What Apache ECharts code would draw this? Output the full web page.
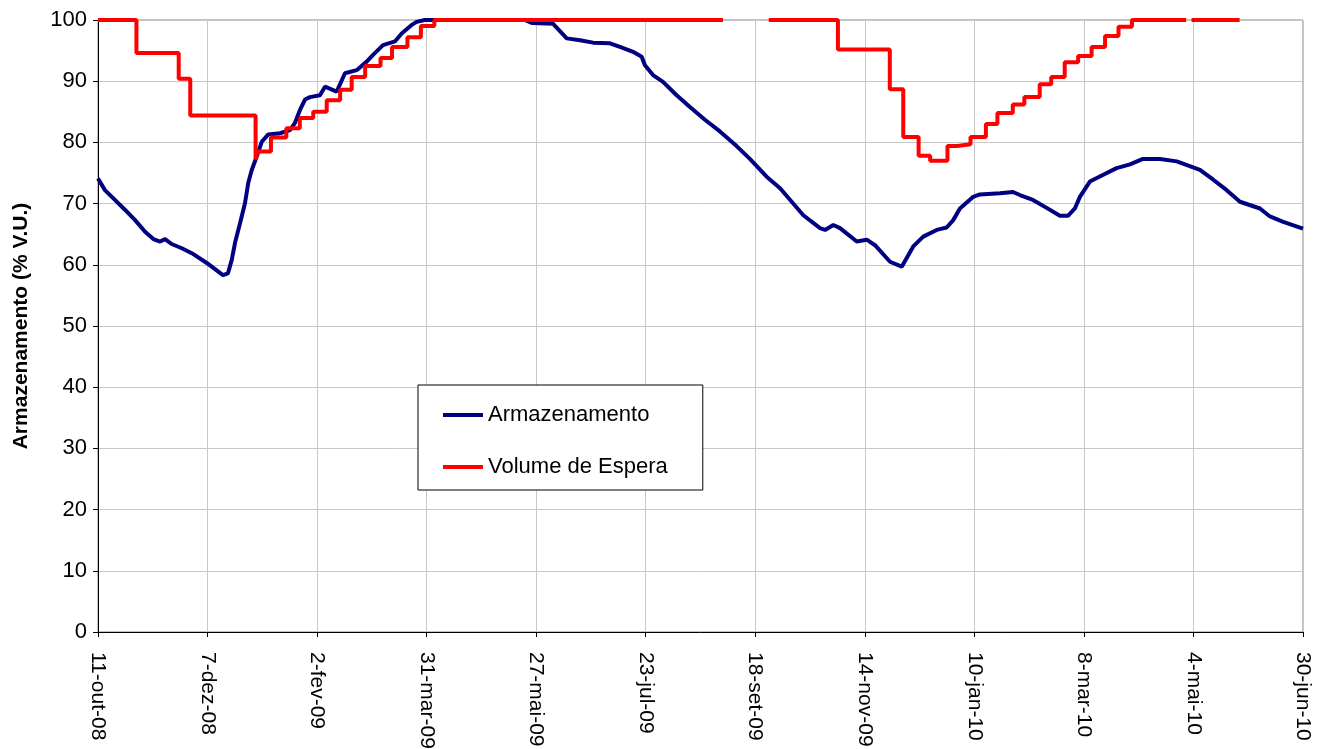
<!DOCTYPE html>
<html>
<head>
<meta charset="utf-8">
<script src="https://cdn.jsdelivr.net/npm/echarts@6/dist/echarts.min.js"></script>
<style>
  html, body { margin: 0; padding: 0; background: #fff; }
  #container { width: 1326px; height: 749px; }
</style>
</head>
<body>
<div id="container"></div>
<script>
// days counted from 11-out-08
var tickLabels = ['11-out-08', '7-dez-08', '2-fev-09', '31-mar-09', '27-mai-09', '23-jul-09',
                  '18-set-09', '14-nov-09', '10-jan-10', '8-mar-10', '4-mai-10', '30-jun-10'];

var blueDays = [0, 3.6, 8.8, 14, 19.3, 24.5, 28.8, 32.3, 34.9, 38.3, 43.6, 48.8, 56.6, 65, 67.6,
    69.6, 71.3, 73.9, 76.5, 78.2, 80, 82.6, 85.2, 88.6, 94.7, 99.9, 102.5, 105.1, 107.7, 110.3,
    115.5, 118.1, 124.2, 128.5, 134.6, 139.8, 143.1, 148.3, 154.5, 158, 163.2, 165.8, 170, 222,
    226, 236.7, 243.9, 250.8, 257.6, 266.4, 271.6, 278.4, 282.9, 284.6, 288.8, 294, 301.1, 308,
    315.8, 323.6, 332.3, 339.2, 347.9, 354.9, 367, 375.7, 378.3, 382.6, 386.1, 394.8, 400, 404.3,
    412.1, 418.2, 424.2, 429.4, 436.4, 441.6, 445, 448.5, 455.4, 458.9, 469.3, 476.1, 479.7,
    486.5, 493.6, 500.5, 504.7, 508.3, 510.9, 516.1, 523.1, 530, 537, 543.7, 552.6, 561.3, 573.4,
    580.3, 587.3, 594.2, 604.6, 609.8, 616.7, 627];
var blueVals = [74.1, 72.2, 70.6, 69.0, 67.3, 65.4, 64.2, 63.8, 64.2, 63.4, 62.7, 61.9, 60.3, 58.3, 58.6,
    60.8, 63.6, 66.8, 70.1, 73.4, 75.5, 77.7, 80.1, 81.3, 81.5, 82.0, 83.2, 85.3, 87.0, 87.4,
    87.7, 89.1, 88.3, 91.3, 91.8, 93.2, 94.3, 95.9, 96.5, 97.8, 99.2, 99.7, 100, 100,
    99.5, 99.4, 97.0, 96.7, 96.3, 96.2, 95.6, 94.8, 94.0, 92.6, 91.0, 89.9, 87.7, 85.8,
    83.7, 81.8, 79.4, 77.3, 74.4, 72.5, 68.1, 66.0, 65.7, 66.5, 66.0, 63.8, 64.1, 63.2,
    60.5, 59.7, 63.0, 64.6, 65.7, 66.1, 67.3, 69.2, 71.1, 71.5, 71.7, 71.9, 71.4,
    70.6, 69.3, 68.0, 68.0, 69.2, 71.1, 73.6, 74.7, 75.8, 76.4, 77.3, 77.3, 76.9, 75.5,
    73.9, 72.2, 70.3, 69.2, 67.9, 67.0, 65.9];

// step changes of the waiting volume (null = no data)
var redDays = [0, 20, 42, 48, 82, 83, 90, 98, 105, 112, 119, 126, 132, 139, 147, 153, 161, 168, 175, 324,
    325.2, 349, 385, 412, 419, 427, 433, 442, 447, 454, 462, 468, 476, 482, 490, 496, 503, 510, 517,
    524, 531, 538, 565, 566.2, 569, 594];
var redVals = [100, 94.6, 90.4, 84.4, 77.2, 78.5, 80.8, 82.3, 84.0, 85.0, 86.9, 88.6, 90.7, 92.5, 93.8, 95.6, 97.2, 99.0, 100, 100,
    null, 100, 95.2, 88.7, 80.9, 77.8, 77.0, 79.4, 79.7, 80.9, 83.0, 84.8, 86.2, 87.4, 89.5, 90.7, 93.1, 94.1, 95.6,
    97.4, 98.9, 100, 100, null, 100, 100];

var FONT = 'Liberation Sans, Arial, sans-serif';

function pairs(xs, ys) {
    var out = [];
    for (var i = 0; i < xs.length; i++) {
        out.push([xs[i], ys[i] === null ? '-' : ys[i]]);
    }
    return out;
}

var myChart = echarts.init(document.getElementById('container'));
var option = {
    animation: false,
    backgroundColor: '#fff',
    textStyle: { fontFamily: FONT },
    grid: {
        left: 98, right: 23, top: 20, bottom: 117,
        outerBoundsMode: 'none',
        show: true, borderColor: '#808080', borderWidth: 1
    },
    legend: {
        orient: 'vertical',
        left: 418, top: 385,
        padding: [17, 35, 10, 25],
        backgroundColor: '#fff',
        borderColor: '#000', borderWidth: 1,
        icon: 'rect',
        itemWidth: 40, itemHeight: 4, itemGap: 26,
        textStyle: { fontSize: 22, lineHeight: 26, color: '#000', fontFamily: FONT },
        data: ['Armazenamento', 'Volume de Espera']
    },
    xAxis: {
        type: 'value',
        min: 0, max: 627, interval: 57,
        axisLine: { lineStyle: { color: '#000', width: 1 } },
        axisTick: { length: 5, lineStyle: { color: '#000' } },
        splitLine: { show: true, lineStyle: { color: '#c8c8c8', width: 1 } },
        axisLabel: {
            rotate: -90, margin: 20, fontSize: 21, color: '#000', fontFamily: FONT,
            formatter: function (v) { return tickLabels[Math.round(v / 57)] || ''; }
        }
    },
    yAxis: {
        type: 'value',
        min: 0, max: 100, interval: 10,
        name: 'Armazenamento (% V.U.)',
        nameLocation: 'middle', nameGap: 66, nameRotate: 90,
        nameTextStyle: { fontSize: 21, fontWeight: 'bold', color: '#000', fontFamily: FONT },
        axisLine: { show: true, lineStyle: { color: '#000', width: 1 } },
        axisTick: { show: true, length: 5, lineStyle: { color: '#000' } },
        splitLine: { show: true, lineStyle: { color: '#c8c8c8', width: 1 } },
        axisLabel: { fontSize: 22, color: '#000', margin: 11, fontFamily: FONT }
    },
    series: [
        {
            name: 'Armazenamento',
            type: 'line',
            data: pairs(blueDays, blueVals),
            showSymbol: false, symbol: 'none',
            clip: false,
            lineStyle: { color: '#000080', width: 4 },
            itemStyle: { color: '#000080' }
        },
        {
            name: 'Volume de Espera',
            type: 'line',
            step: 'end',
            data: pairs(redDays, redVals),
            showSymbol: false, symbol: 'none',
            clip: false,
            connectNulls: false,
            lineStyle: { color: '#ff0000', width: 4 },
            itemStyle: { color: '#ff0000' }
        }
    ]
};
myChart.setOption(option);
</script>
</body>
</html>
